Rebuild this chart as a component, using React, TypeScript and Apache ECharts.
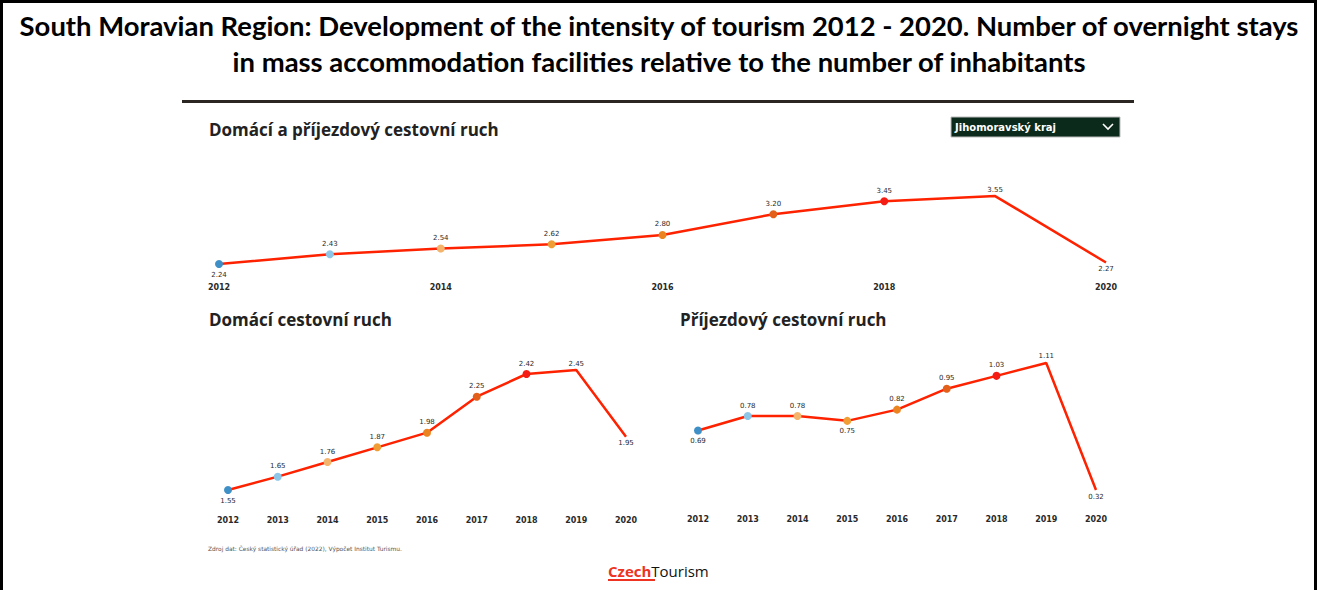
import React, { useEffect, useRef } from "react";
import * as echarts from "echarts";

const years = ["2012", "2013", "2014", "2015", "2016", "2017", "2018", "2019", "2020"];
const totalStays = [2.24, 2.43, 2.54, 2.62, 2.8, 3.2, 3.45, 3.55, 2.27];
const domesticStays = [1.55, 1.65, 1.76, 1.87, 1.98, 2.25, 2.42, 2.45, 1.95];
const inboundStays = [0.69, 0.78, 0.78, 0.75, 0.82, 0.95, 1.03, 1.11, 0.32];
const markerColors = ["#3d8fc6", "#8ec6e8", "#f4b46c", "#ef9d34", "#ea8420", "#e2601a", "#f41c14", "#ff2a00", "#ff2a00"];
const showMarker = [true, true, true, true, true, true, true, false, false];
const totalBelow = [0, 8];
const domesticBelow = [0, 8];
const inboundBelow = [0, 3, 8];

const TITLE1 = "South Moravian Region: Development of the intensity of tourism 2012 - 2020. Number of overnight stays";
const TITLE2 = "in mass accommodation facilities relative to the number of inhabitants";

function buildData(values: number[], below: number[]) {
  return values.map((v, i) => ({
    value: v,
    symbolSize: showMarker[i] ? 8 : 0,
    itemStyle: { color: markerColors[i] },
    label: { position: below.includes(i) ? "bottom" : "top" },
  }));
}

export default function App() {
  const ref = useRef<HTMLDivElement>(null);
  useEffect(() => {
    if (!ref.current) return;
    const chart = echarts.init(ref.current, null, { renderer: "svg" });
    const axisLabel = { fontSize: 8, color: "#2a2a2a", fontFamily: "DejaVu Sans", fontWeight: "bold" as const };
    const pointLabel = {
      show: true,
      fontSize: 7,
      color: "#2a2a2a",
      fontFamily: "DejaVu Sans",
      distance: 3,
      formatter: (p: any) => Number(p.value).toFixed(2),
    };
    const xBase = {
      type: "category" as const,
      data: years,
      boundaryGap: false,
      axisLine: { show: false },
      axisTick: { show: false },
      splitLine: { show: false },
    };
    const yBase = { type: "value" as const, show: false, splitLine: { show: false } };
    const lineSeries = (idx: number, values: number[], below: number[]) => ({
      type: "line" as const,
      xAxisIndex: idx,
      yAxisIndex: idx,
      data: buildData(values, below),
      symbol: "circle",
      lineStyle: { color: "#ff2200", width: 2.5 },
      label: pointLabel,
      z: 3,
    });
    const subtitle = { fontFamily: "Open Sans", fontWeight: "bold", fontSize: 17, fill: "#222", verticalAlign: "middle" };
    const titleStyle = { fontFamily: "Lato", fontWeight: "bold", fontSize: 26, fill: "#000", align: "center", verticalAlign: "middle" };
    chart.setOption({
      animation: false,
      backgroundColor: "#ffffff",
      grid: [
        { left: 219, right: 211, top: 172.7, bottom: 313.5 },
        { left: 228, right: 691, top: 350, bottom: 80 },
        { left: 698, right: 221, top: 348.5, bottom: 80.7 },
      ],
      xAxis: [
        { ...xBase, gridIndex: 0, axisLabel: { ...axisLabel, interval: 1, margin: 7 } },
        { ...xBase, gridIndex: 1, axisLabel: { ...axisLabel, interval: 0, margin: 6 } },
        { ...xBase, gridIndex: 2, axisLabel: { ...axisLabel, interval: 0, margin: 6 } },
      ],
      yAxis: [
        { ...yBase, gridIndex: 0, min: 2.0, max: 4.0 },
        { ...yBase, gridIndex: 1, min: 1.4, max: 2.6 },
        { ...yBase, gridIndex: 2, min: 0.2, max: 1.2 },
      ],
      series: [
        lineSeries(0, totalStays, totalBelow),
        lineSeries(1, domesticStays, domesticBelow),
        lineSeries(2, inboundStays, inboundBelow),
      ],
      graphic: [
        { type: "rect", shape: { x: 0, y: 0, width: 1317, height: 3 }, style: { fill: "#000" } },
        { type: "rect", shape: { x: 0, y: 0, width: 3, height: 590 }, style: { fill: "#000" } },
        { type: "rect", shape: { x: 1314, y: 0, width: 3, height: 590 }, style: { fill: "#000" } },
        { type: "text", x: 659, y: 26, scaleX: 1.055, style: { text: TITLE1, ...titleStyle } },
        { type: "text", x: 659, y: 62, scaleX: 1.055, style: { text: TITLE2, ...titleStyle } },
        { type: "rect", shape: { x: 182, y: 100, width: 952, height: 3 }, style: { fill: "#2b2622" } },
        { type: "text", x: 209, y: 129, style: { text: "Domácí a příjezdový cestovní ruch", ...subtitle } },
        { type: "text", x: 209, y: 319, style: { text: "Domácí cestovní ruch", ...subtitle } },
        { type: "text", x: 680, y: 319, style: { text: "Příjezdový cestovní ruch", ...subtitle } },
        { type: "rect", shape: { x: 951, y: 117, width: 169, height: 20 }, style: { fill: "#0c2a1b", stroke: "#bbbbbb", lineWidth: 1 } },
        {
          type: "text",
          x: 955,
          y: 127,
          style: { text: "Jihomoravský kraj", fontFamily: "DejaVu Sans", fontWeight: "bold", fontSize: 10, fill: "#ffffff", verticalAlign: "middle" },
        },
        {
          type: "polyline",
          shape: { points: [[1103, 124], [1108, 129], [1113, 124]] },
          style: { stroke: "#ffffff", lineWidth: 1.6, fill: "none" },
        },
        {
          type: "text",
          x: 208,
          y: 549,
          style: { text: "Zdroj dat: Český statistický úřad (2022), Výpočet Institut Turismu.", fontFamily: "DejaVu Sans", fontSize: 5.9, fill: "#555", verticalAlign: "middle" },
        },
        {
          type: "text",
          x: 608,
          y: 571,
          style: {
            text: "{c|Czech}{t|Tourism}",
            verticalAlign: "middle",
            rich: {
              c: { fontFamily: "Open Sans", fontWeight: "bold", fontSize: 15, fill: "#ee3322", color: "#ee3322" },
              t: { fontFamily: "Open Sans", fontSize: 15, fill: "#111", color: "#111" },
            },
          },
        },
        { type: "rect", shape: { x: 608, y: 579, width: 47, height: 2 }, style: { fill: "#ee3322" } },
      ],
    });
    return () => chart.dispose();
  }, []);
  return <div ref={ref} style={{ position: "fixed", left: 0, top: 0, width: 1317, height: 590 }} />;
}
